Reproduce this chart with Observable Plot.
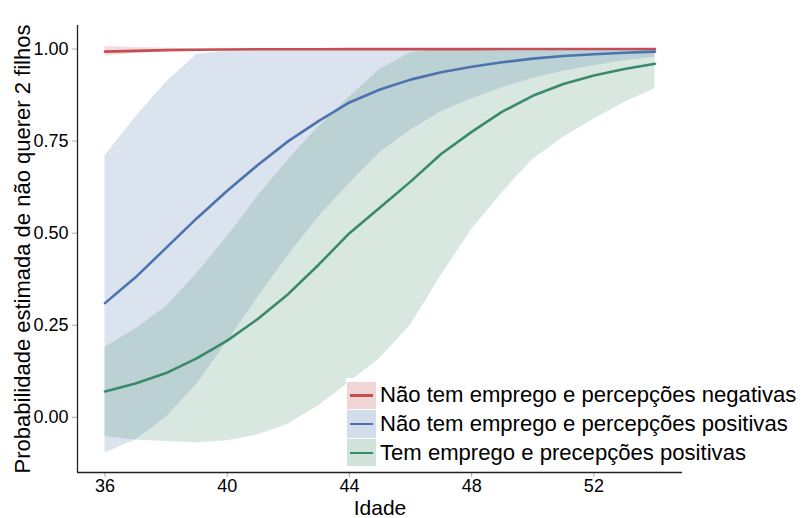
<!DOCTYPE html>
<html>
<head>
<meta charset="utf-8">
<script src="https://cdn.jsdelivr.net/npm/d3@7"></script>
<script src="https://cdn.jsdelivr.net/npm/@observablehq/plot@0.6"></script>
<style>
  html, body { margin: 0; padding: 0; background: #fff; }
  #wrap { position: relative; width: 808px; height: 518px; font-family: "Liberation Sans", Arial, Helvetica, sans-serif; }
  #legend { position: absolute; left: 346px; top: 378px; background: #fff; padding: 3px 6px 4px 1px; }
  .row { display: flex; align-items: center; height: 28.7px; }
  .key { position: relative; width: 29px; height: 27.2px; margin-right: 4px; }
  .key .ln { position: absolute; left: 3px; right: 3px; top: 12.4px; height: 2.6px; }
  .lab { font-size: 22.1px; color: #000; white-space: nowrap; line-height: 1; }
</style>
</head>
<body>
<div id="wrap"></div>
<script>
// Data
const ages = [36, 37, 38, 39, 40, 41, 42, 43, 44, 45, 46, 47, 48, 49, 50, 51, 52, 53, 54];

const seriesNames = [
  "Não tem emprego e percepções negativas",
  "Não tem emprego e percepções positivas",
  "Tem emprego e precepções positivas"
];
const seriesColors = ["#C44E52", "#4C72B0", "#3A8A6A"];

const redFit = [0.993, 0.995, 0.997, 0.998, 0.999, 0.9994, 0.9996, 0.9997, 0.9998, 0.9998, 0.9999, 0.9999, 0.9999, 1, 1, 1, 1, 1, 1];
const redLo  = [0.981, 0.988, 0.993, 0.996, 0.997, 0.998, 0.999, 0.999, 0.9995, 0.9995, 0.9996, 0.9997, 0.9998, 0.9998, 0.9999, 0.9999, 0.9999, 0.9999, 0.9999];
const redHi  = [1.007, 1.004, 1.002, 1.001, 1.001, 1.0005, 1.0004, 1.0003, 1.0002, 1.0002, 1.0001, 1.0001, 1.0001, 1.0001, 1.0001, 1.0001, 1.0001, 1.0001, 1.0001];

const blueFit = [0.31, 0.38, 0.46, 0.54, 0.615, 0.685, 0.75, 0.805, 0.855, 0.89, 0.917, 0.937, 0.952, 0.964, 0.974, 0.981, 0.986, 0.99, 0.993];
const blueLo  = [-0.097, -0.062, 0.0, 0.09, 0.205, 0.325, 0.44, 0.545, 0.635, 0.72, 0.78, 0.83, 0.865, 0.895, 0.92, 0.94, 0.955, 0.968, 0.978];
const blueHi  = [0.71, 0.815, 0.91, 0.985, 0.995, 0.998, 1, 1, 1, 1, 1, 1, 1, 1, 1, 1, 1, 1, 1];

const greenFit = [0.07, 0.092, 0.12, 0.16, 0.208, 0.267, 0.335, 0.415, 0.5, 0.57, 0.64, 0.715, 0.775, 0.83, 0.873, 0.905, 0.928, 0.946, 0.96];
const greenLo  = [-0.052, -0.062, -0.066, -0.069, -0.064, -0.048, -0.018, 0.032, 0.095, 0.16, 0.25, 0.385, 0.51, 0.61, 0.7, 0.76, 0.81, 0.855, 0.892];
const greenHi  = [0.19, 0.24, 0.3, 0.39, 0.49, 0.6, 0.7, 0.79, 0.87, 0.945, 0.99, 1, 1, 1, 1, 1, 1, 1, 1];

const xTicks = [36, 40, 44, 48, 52];
const yTicks = [0, 0.25, 0.5, 0.75, 1];
const xDomain = [35.1, 54.9];
const yDomain = [-0.15, 1.064];
const xTitle = "Idade";
const yTitle = "Probabilidade estimada de não querer 2 filhos";

// Build a tidy table
const fits = [redFit, blueFit, greenFit];
const los = [redLo, blueLo, greenLo];
const his = [redHi, blueHi, greenHi];
const rows = [];
seriesNames.forEach((s, i) => {
  ages.forEach((a, j) => rows.push({series: s, idx: i, age: a, fit: fits[i][j], lo: los[i][j], hi: his[i][j]}));
});

const marks = [];
seriesNames.forEach((s, i) => {
  marks.push(Plot.areaY(rows.filter(d => d.idx === i), {x: "age", y1: "lo", y2: "hi", fill: seriesColors[i], fillOpacity: 0.2}));
});
seriesNames.forEach((s, i) => {
  marks.push(Plot.line(rows.filter(d => d.idx === i), {x: "age", y: "fit", stroke: seriesColors[i], strokeWidth: 2.6}));
});

const chart = Plot.plot({
  width: 808,
  height: 518,
  marginLeft: 77,
  marginRight: 126,
  marginTop: 25,
  marginBottom: 46,
  style: {fontFamily: '"Liberation Sans", Arial, Helvetica, sans-serif', fontSize: "18px", background: "#fff", color: "#000"},
  x: {domain: xDomain},
  y: {domain: yDomain},
  marks: [
    ...marks,
    Plot.axisX({ticks: xTicks, tickSize: 5, tickPadding: 2, fontSize: 18, label: null, stroke: "#aaa", tickFormat: d => String(d)}),
    Plot.axisY({ticks: yTicks, tickSize: 5, tickPadding: 4, fontSize: 18, label: null, stroke: "#aaa", tickFormat: d3.format(".2f")}),
    Plot.ruleX([xDomain[0]], {stroke: "#222", strokeWidth: 1.3}),
    Plot.ruleY([yDomain[0]], {stroke: "#222", strokeWidth: 1.3}),
    Plot.text([xTitle], {text: d => d, frameAnchor: "bottom", lineAnchor: "middle", textAnchor: "middle", dy: 36, fontSize: 21, fill: "#000"}),
    Plot.text([yTitle], {text: d => d, frameAnchor: "left", lineAnchor: "middle", textAnchor: "middle", dx: -55, rotate: -90, fontSize: 22, fill: "#000"})
  ]
});

const wrap = document.getElementById("wrap");
wrap.appendChild(chart);

// Legend (ggplot-style keys: ribbon fill + line)
const legend = document.createElement("div");
legend.id = "legend";
seriesNames.forEach((s, i) => {
  const row = document.createElement("div");
  row.className = "row";
  const key = document.createElement("div");
  key.className = "key";
  const c = d3.color(seriesColors[i]);
  c.opacity = 0.24;
  key.style.background = c.formatRgb();
  const ln = document.createElement("div");
  ln.className = "ln";
  ln.style.background = seriesColors[i];
  key.appendChild(ln);
  const lab = document.createElement("div");
  lab.className = "lab";
  lab.textContent = s;
  row.appendChild(key);
  row.appendChild(lab);
  legend.appendChild(row);
});
wrap.appendChild(legend);
</script>
</body>
</html>
